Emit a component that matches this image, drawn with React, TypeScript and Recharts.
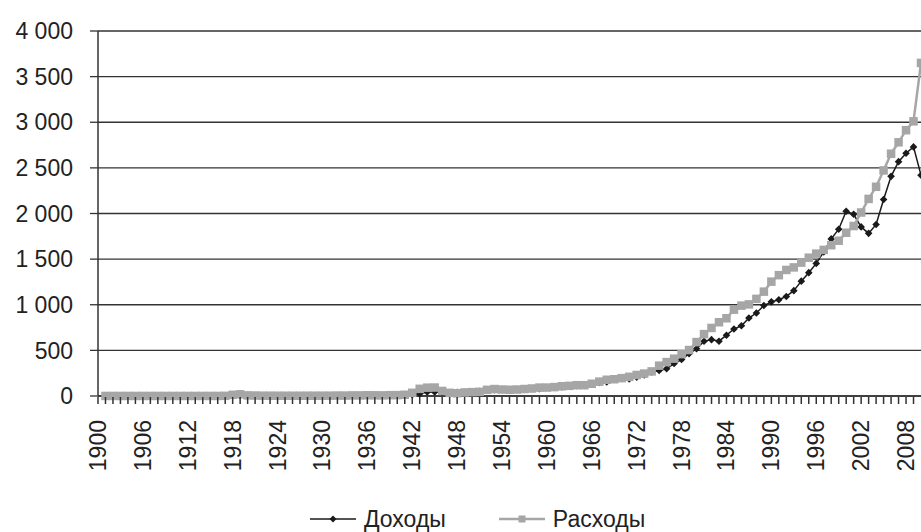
import { CartesianGrid, Legend, Line, LineChart, XAxis, YAxis } from "recharts";

// federal receipts and outlays, billions, 1901-2010
const years = Array.from({ length: 110 }, (_, i) => 1901 + i);

const receipts = [
  0.6, 0.6, 0.6, 0.5, 0.5, 0.6, 0.7, 0.6, 0.6, 0.7,
  0.7, 0.7, 0.7, 0.7, 0.7, 0.8, 1.1, 3.6, 5.1, 6.6,
  5.6, 4.0, 3.9, 3.9, 3.6, 3.8, 4.0, 3.9, 3.9, 4.1,
  3.1, 1.9, 2.0, 3.0, 3.6, 3.9, 5.4, 6.8, 6.3, 6.5,
  8.7, 14.6, 24.0, 43.7, 45.2, 39.3, 38.5, 41.6, 39.4, 39.4,
  51.6, 66.2, 69.6, 69.7, 65.5, 74.6, 80.0, 79.6, 79.2, 92.5,
  94.4, 99.7, 106.6, 112.6, 116.8, 130.8, 148.8, 153.0, 186.9, 192.8,
  187.1, 207.3, 230.8, 263.2, 279.1, 298.1, 355.6, 399.6, 463.3, 517.1,
  599.3, 617.8, 600.6, 666.4, 734.0, 769.2, 854.3, 909.2, 991.1, 1032.0,
  1055.0, 1091.2, 1154.3, 1258.6, 1351.8, 1453.1, 1579.2, 1721.7, 1827.5, 2025.2,
  1991.1, 1853.1, 1782.3, 1880.1, 2153.6, 2406.9, 2568.0, 2660, 2730, 2420,
];

const outlays = [
  0.5, 0.5, 0.5, 0.6, 0.6, 0.6, 0.6, 0.7, 0.7, 0.7,
  0.7, 0.7, 0.7, 0.7, 0.7, 0.7, 2.0, 12.7, 18.5, 6.4,
  5.1, 3.3, 3.1, 2.9, 2.9, 2.9, 2.9, 3.0, 3.1, 3.3,
  3.6, 4.7, 4.6, 6.5, 6.4, 8.2, 7.6, 6.8, 9.1, 9.5,
  13.7, 35.1, 78.6, 91.3, 92.7, 55.2, 34.5, 29.8, 38.8, 42.6,
  45.5, 67.7, 76.1, 70.9, 68.4, 70.6, 76.6, 82.4, 92.1, 92.2,
  97.7, 106.8, 111.3, 118.5, 118.2, 134.5, 157.5, 178.1, 183.6, 195.6,
  210.2, 230.7, 245.7, 269.4, 332.3, 371.8, 409.2, 458.7, 504.0, 590.9,
  678.2, 745.7, 808.4, 851.8, 946.3, 990.4, 1004.0, 1064.4, 1143.7, 1253.0,
  1324.2, 1381.5, 1409.4, 1461.8, 1515.7, 1560.5, 1601.1, 1652.5, 1701.8, 1789.0,
  1862.8, 2010.9, 2159.9, 2292.8, 2472.0, 2655.1, 2780, 2913, 3010, 3650,
];

const xTicks = Array.from({ length: 110 }, (_, i) => 1900 + i);
const yTicks = [0, 500, 1000, 1500, 2000, 2500, 3000, 3500, 4000];

const data = years.map((year, i) => ({
  year,
  receipts: receipts[i],
  outlays: outlays[i],
}));

const FONT = "'Liberation Sans', Arial, sans-serif";
const INK = "#222";
const AXIS = "#333";
const BLACK = "#1a1a1a";
const GREY = "#a6a6a6";

const fmtThousands = (v: number) =>
  v >= 1000 ? `${Math.floor(v / 1000)}\u00a0${String(v % 1000).padStart(3, "0")}` : String(v);

function YearTick(props: any) {
  const { x, y, payload } = props;
  const year = payload.value;
  const show = (year - 1900) % 6 === 0;
  const tx = x + 8;
  const ty = y + 24;
  return (
    <g>
      <line x1={x} x2={x} y1={y + 1} y2={y + 8} stroke={AXIS} strokeWidth={1.5} />
      {show && (
        <text
          x={tx}
          y={ty}
          transform={`rotate(-90 ${tx} ${ty})`}
          textAnchor="end"
          fill={INK}
          fontSize={23}
          fontFamily={FONT}
        >
          {year}
        </text>
      )}
    </g>
  );
}

const diamondDot = (props: any) => {
  const { cx, cy, index } = props;
  if (cx == null || cy == null) return <g key={`r-${index}`} />;
  const r = 3.8;
  return (
    <path
      key={`r-${index}`}
      d={`M${cx},${cy - r}L${cx + r},${cy}L${cx},${cy + r}L${cx - r},${cy}Z`}
      fill={BLACK}
    />
  );
};

const squareDot = (props: any) => {
  const { cx, cy, index } = props;
  if (cx == null || cy == null) return <g key={`o-${index}`} />;
  return <rect key={`o-${index}`} x={cx - 4.25} y={cy - 4.25} width={8.5} height={8.5} fill={GREY} />;
};

const renderLegend = () => (
  <div
    style={{
      display: "flex",
      alignItems: "center",
      boxSizing: "border-box",
      height: 46,
      paddingTop: 20,
      paddingLeft: 310,
      fontFamily: FONT,
      fontSize: 23,
      color: INK,
    }}
  >
    <svg width={46} height={12}>
      <line x1={0} x2={46} y1={6} y2={6} stroke={BLACK} strokeWidth={1.5} />
      <path d="M23,2.5L26.5,6L23,9.5L19.5,6Z" fill={BLACK} />
    </svg>
    <span style={{ marginLeft: 8 }}>Доходы</span>
    <svg width={46} height={12} style={{ marginLeft: 53 }}>
      <line x1={0} x2={46} y1={6} y2={6} stroke={GREY} strokeWidth={2.5} />
      <rect x={19.5} y={2.5} width={7} height={7} fill={GREY} />
    </svg>
    <span style={{ marginLeft: 8 }}>Расходы</span>
  </div>
);

export default function App() {
  return (
    <div style={{ position: "absolute", left: 0, top: 0, background: "#fff" }}>
      <LineChart
        width={921}
        height={532}
        data={data}
        margin={{ top: 31, right: 0, left: 0, bottom: 0 }}
      >
        <CartesianGrid vertical={false} stroke={AXIS} strokeWidth={1.3} />
        <XAxis
          dataKey="year"
          type="number"
          domain={[1900, 2010]}
          ticks={xTicks}
          interval={0}
          tickSize={0}
          tickMargin={0}
          tickLine={false}
          axisLine={{ stroke: AXIS, strokeWidth: 1.5 }}
          height={90}
          tick={<YearTick />}
        />
        <YAxis
          domain={[0, 4000]}
          ticks={yTicks}
          interval={0}
          width={98}
          tickSize={8}
          tickMargin={17}
          tickFormatter={fmtThousands}
          tickLine={{ stroke: AXIS, strokeWidth: 1.3 }}
          axisLine={{ stroke: AXIS, strokeWidth: 1.5 }}
          tick={{ fill: INK, fontSize: 23, fontFamily: FONT }}
        />
        <Legend verticalAlign="bottom" height={46} content={renderLegend} />
        <Line
          type="linear"
          dataKey="receipts"
          name="Доходы"
          stroke={BLACK}
          strokeWidth={1.5}
          dot={diamondDot}
          activeDot={false}
          isAnimationActive={false}
        />
        <Line
          type="linear"
          dataKey="outlays"
          name="Расходы"
          stroke={GREY}
          strokeWidth={2.5}
          dot={squareDot}
          activeDot={false}
          isAnimationActive={false}
        />
      </LineChart>
    </div>
  );
}
